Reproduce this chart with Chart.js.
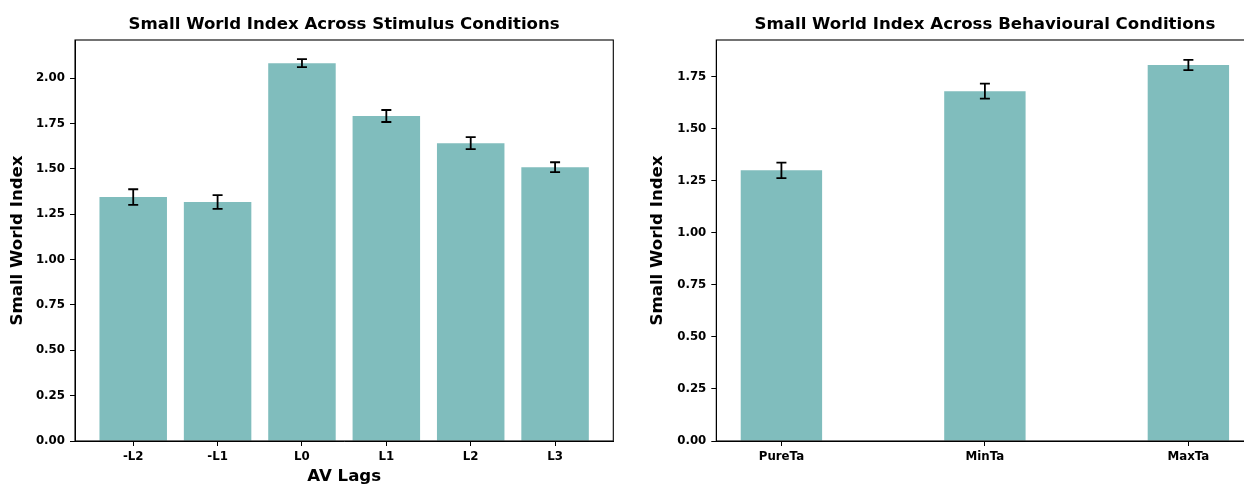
<!DOCTYPE html>
<html>
<head>
<meta charset="utf-8">
<script src="https://cdn.jsdelivr.net/npm/chart.js@4.4.1/dist/chart.umd.min.js"></script>
<style>
  html, body { margin: 0; padding: 0; background: #ffffff; }
  body { width: 1244px; height: 485px; overflow: hidden; position: relative; }
  canvas { position: absolute; top: 0; }
</style>
</head>
<body>
<canvas id="stimulus" width="688" height="485" style="left:0px"></canvas>
<canvas id="behaviour" width="690" height="485" style="left:640px"></canvas>
<script>
// Small world index per AV lag
const lagLabels = ['-L2', '-L1', 'L0', 'L1', 'L2', 'L3'];
const lagMeans  = [1.345, 1.318, 2.083, 1.792, 1.642, 1.510];
const lagErrors = [0.043, 0.038, 0.022, 0.033, 0.033, 0.027];
const lagYTicks = [0, 0.25, 0.5, 0.75, 1.0, 1.25, 1.5, 1.75, 2.0];

// Small world index per behavioural condition
const behavLabels = ['PureTa', 'MinTa', 'MaxTa'];
const behavMeans  = [1.300, 1.680, 1.806];
const behavErrors = [0.037, 0.036, 0.025];
const behavYTicks = [0, 0.25, 0.5, 0.75, 1.0, 1.25, 1.5, 1.75];

const BAR_COLOR = 'rgb(128,189,189)';
const FONT = 'DejaVu Sans';
const LABEL_SIZE = 16.6;
const TICK_SIZE = 11.8;

// Error bars with caps, the full axes frame, and a title centred over the plot area
const errorBarPlugin = {
  id: 'errorBars',
  afterDatasetsDraw(chart, args, opts) {
    const { ctx, scales: { x, y } } = chart;
    ctx.save();
    ctx.strokeStyle = '#000';
    ctx.lineWidth = 1.8;
    opts.means.forEach((m, i) => {
      const px = x.getPixelForValue(i);
      const top = y.getPixelForValue(m + opts.errors[i]);
      const bot = y.getPixelForValue(m - opts.errors[i]);
      ctx.beginPath();
      ctx.moveTo(px, top); ctx.lineTo(px, bot);
      ctx.moveTo(px - 5, top); ctx.lineTo(px + 5, top);
      ctx.moveTo(px - 5, bot); ctx.lineTo(px + 5, bot);
      ctx.stroke();
    });
    ctx.restore();
  },
  afterDraw(chart, args, opts) {
    const { ctx, chartArea: a } = chart;
    ctx.save();
    ctx.strokeStyle = '#000';
    ctx.lineWidth = 1.1;
    ctx.strokeRect(a.left, a.top, a.right - a.left, a.bottom - a.top);
    ctx.fillStyle = '#000';
    ctx.font = `bold ${LABEL_SIZE}px "${FONT}"`;
    ctx.textAlign = 'center';
    ctx.textBaseline = 'middle';
    ctx.fillText(opts.title, (a.left + a.right) / 2, 25);
    ctx.restore();
  }
};

function makeChart(id, cfg) {
  const n = cfg.labels.length;
  const pad = cfg.margin;
  return new Chart(document.getElementById(id), {
    type: 'bar',
    data: {
      datasets: [{
        data: cfg.labels.map((_, i) => ({ x: i, y: cfg.means[i] })),
        backgroundColor: BAR_COLOR,
        borderWidth: 0,
        barPercentage: cfg.barWidth,
        categoryPercentage: 1.0
      }]
    },
    options: {
      responsive: false,
      devicePixelRatio: 1,
      animation: false,
      layout: { padding: { left: 0, right: cfg.rightPad, top: 40, bottom: 0 } },
      plugins: {
        legend: { display: false },
        tooltip: { enabled: false },
        title: { display: false },
        errorBars: { means: cfg.means, errors: cfg.errors, title: cfg.title }
      },
      scales: {
        x: {
          type: 'linear',
          offset: false,
          min: -cfg.barWidth / 2 - pad,
          max: (n - 1) + cfg.barWidth / 2 + pad,
          afterBuildTicks: (s) => { s.ticks = cfg.labels.map((_, i) => ({ value: i })); },
          afterFit: (s) => { s.height = 44; },
          ticks: {
            autoSkip: false, maxRotation: 0, padding: 4,
            color: '#000',
            font: { family: FONT, size: TICK_SIZE, weight: 'bold' },
            callback: (v) => cfg.labels[v]
          },
          grid: { offset: false, drawOnChartArea: false, tickLength: 5, color: '#000', tickWidth: 1 },
          border: { display: true, color: '#000', width: 1 },
          title: {
            display: !!cfg.xTitle,
            text: cfg.xTitle || '',
            color: '#000',
            font: { family: FONT, size: LABEL_SIZE, weight: 'bold', lineHeight: 1.2 },
            padding: { top: 0, bottom: -2 }
          }
        },
        y: {
          type: 'linear',
          min: 0,
          max: cfg.yMax,
          afterBuildTicks: (s) => { s.ticks = cfg.yTicks.map(v => ({ value: v })); },
          afterFit: (s) => { s.width = cfg.yWidth; },
          ticks: {
            padding: 5,
            color: '#000',
            font: { family: FONT, size: TICK_SIZE, weight: 'bold' },
            callback: (v) => Number(v).toFixed(2)
          },
          grid: { drawOnChartArea: false, tickLength: 5, color: '#000', tickWidth: 1 },
          border: { display: true, color: '#000', width: 1 },
          title: {
            display: true,
            text: 'Small World Index',
            color: '#000',
            font: { family: FONT, size: LABEL_SIZE, weight: 'bold', lineHeight: 1.2 },
            padding: { top: 7.5, bottom: 0 }
          }
        }
      }
    },
    plugins: [errorBarPlugin]
  });
}

makeChart('stimulus', {
  title: 'Small World Index Across Stimulus Conditions',
  labels: lagLabels, means: lagMeans, errors: lagErrors, yTicks: lagYTicks,
  yMax: 2.211, barWidth: 0.8, margin: 0.29, xTitle: 'AV Lags',
  yWidth: 75, rightPad: 74.7
});

makeChart('behaviour', {
  title: 'Small World Index Across Behavioural Conditions',
  labels: behavLabels, means: behavMeans, errors: behavErrors, yTicks: behavYTicks,
  yMax: 1.926, barWidth: 0.4, margin: 0.12, xTitle: '',
  yWidth: 76.3, rightPad: 76.5
});
</script>
</body>
</html>
